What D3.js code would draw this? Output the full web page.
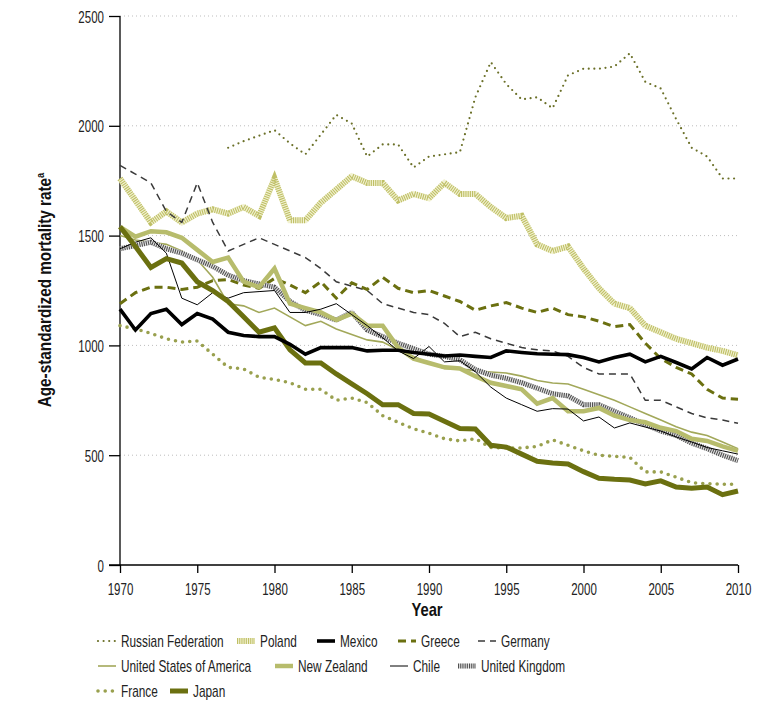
<!DOCTYPE html>
<html><head><meta charset="utf-8">
<script src="https://cdn.jsdelivr.net/npm/d3@7"></script>
<style>
body{margin:0;background:#fff;}
text{font-family:"Liberation Sans",Arial,sans-serif;}
</style></head>
<body><svg id="c" width="771" height="708"></svg>
<script>
const years = d3.range(1970, 2011);
const russia = [null,null,null,null,null,null,null,1900,1930,1955,1980,1920,1870,1960,2050,2010,1860,1915,1915,1810,1860,1870,1880,2130,2290,2190,2120,2130,2080,2230,2260,2260,2270,2330,2200,2170,2030,1900,1860,1760,1760];
const poland = [1760,1660,1560,1610,1560,1600,1620,1600,1630,1590,1760,1570,1570,1650,1710,1770,1740,1740,1660,1690,1670,1740,1690,1690,1630,1580,1590,1460,1430,1450,1350,1260,1190,1170,1090,1060,1030,1010,990,975,955];
const mexico = [1165,1070,1145,1165,1095,1145,1120,1060,1045,1040,1040,1005,960,990,990,990,975,978,978,968,960,952,956,950,945,975,968,962,960,958,945,925,945,960,925,950,922,893,945,910,938];
const greece = [1190,1240,1265,1265,1255,1265,1295,1300,1275,1260,1305,1275,1240,1290,1215,1285,1255,1310,1260,1240,1250,1225,1200,1160,1180,1195,1170,1150,1170,1140,1130,1110,1085,1095,1010,940,900,870,800,760,755];
const germany = [1820,1780,1740,1610,1560,1740,1560,1430,1460,1490,1460,1430,1400,1350,1290,1270,1250,1190,1170,1150,1140,1100,1040,1060,1030,1010,990,980,975,950,900,870,870,870,750,750,720,690,670,660,645];
const usa = [1500,1480,1470,1460,1430,1390,1310,1190,1180,1150,1170,1130,1090,1110,1075,1050,1025,1015,980,950,920,895,893,885,879,874,860,840,829,824,800,775,750,720,690,660,630,605,590,560,530];
const newZealand = [1540,1495,1520,1515,1490,1435,1380,1400,1290,1265,1350,1190,1170,1150,1115,1145,1090,1090,990,940,920,900,895,860,830,815,800,735,760,700,700,715,680,660,650,625,610,575,565,540,520];
const chile = [1440,1470,1490,1420,1215,1185,1240,1215,1240,1245,1250,1150,1150,1165,1190,1140,1090,1035,975,940,995,925,930,880,810,760,730,700,712,710,656,674,624,647,628,610,583,560,535,520,505];
const uk = [1440,1455,1470,1440,1420,1390,1360,1320,1295,1280,1265,1200,1160,1140,1115,1150,1070,1040,1010,985,960,950,935,890,865,850,830,805,780,770,730,730,700,670,640,610,590,555,530,500,475];
const france = [1090,1075,1055,1030,1015,1020,960,900,893,855,845,830,800,800,750,760,740,680,650,620,600,575,565,575,535,533,533,540,570,545,520,500,495,490,424,424,400,375,370,368,368];
const japan = [1540,1450,1355,1395,1375,1290,1250,1200,1130,1060,1080,980,920,920,870,825,780,730,730,690,688,655,622,619,545,537,505,472,465,460,425,395,390,387,369,383,355,350,355,320,337];
const yTicks = [0,500,1000,1500,2000,2500];
const xTicks = [1970,1975,1980,1985,1990,1995,2000,2005,2010];

const seriesNames = ["Russian Federation","Poland","Mexico","Greece","Germany","United States of America","New Zealand","Chile","United Kingdom","France","Japan"];
const seriesData = [russia,poland,mexico,greece,germany,usa,newZealand,chile,uk,france,japan];

const styles = {
 "Russian Federation":[{stroke:"#6b7028",w:2.2,dash:"0,5.6",cap:"round"}],
 "Poland":[{stroke:"#f2f2d2",w:6},{stroke:"#bfbf66",w:6,dash:"1.1,1.1"}],
 "Mexico":[{stroke:"#000",w:3.6}],
 "Greece":[{stroke:"#6b7010",w:3,dash:"8,5"}],
 "Germany":[{stroke:"#3a3a3a",w:1.5,dash:"7,5"}],
 "United States of America":[{stroke:"#a2a85a",w:1.6}],
 "New Zealand":[{stroke:"#b7bc6c",w:4.5}],
 "Chile":[{stroke:"#000",w:1}],
 "United Kingdom":[{stroke:"#e4e4e4",w:5},{stroke:"#505050",w:5,dash:"1.1,1.1"}],
 "France":[{stroke:"#99a04e",w:3.6,dash:"0,7.2",cap:"round"}],
 "Japan":[{stroke:"#6b7010",w:5}]
};
const drawOrder = ["Russian Federation","Poland","Germany","Greece","France","United States of America","United Kingdom","New Zealand","Chile","Japan","Mexico"];

const svg = d3.select("#c");
const x = d3.scaleLinear().domain([1970,2010]).range([120,738]);
const y = d3.scaleLinear().domain([0,2500]).range([565,16]);

// gridlines
svg.append("g").selectAll("line").data(yTicks.filter(v=>v>0)).join("line")
  .attr("x1",120).attr("x2",740).attr("y1",d=>y(d)).attr("y2",d=>y(d))
  .attr("stroke","#bdbdbd").attr("stroke-width",1).attr("stroke-dasharray","1,3");

// axes
const yAxis = svg.append("g").attr("transform","translate(120,0)")
  .call(d3.axisLeft(y).tickValues(yTicks).tickSize(11).tickFormat(d3.format("d")));
const xAxis = svg.append("g").attr("transform","translate(0,565)")
  .call(d3.axisBottom(x).tickValues(xTicks).tickSize(8).tickFormat(d3.format("d")));
[yAxis,xAxis].forEach(g=>{
  g.select(".domain").attr("stroke","#000").attr("stroke-width",1.3);
  g.selectAll(".tick line").attr("stroke","#000").attr("stroke-width",1.3);
});
yAxis.select(".domain").attr("d","M0,565V16");
xAxis.select(".domain").attr("d","M109,0H738");
yAxis.selectAll(".tick text").attr("x",null).attr("dy",null)
  .attr("transform","translate(-16,6) scale(0.72,1)").attr("text-anchor","end")
  .attr("font-size",16).attr("fill","#222").style("font-family",'"Liberation Sans",Arial,sans-serif');
xAxis.selectAll(".tick text").attr("y",null).attr("dy",null)
  .attr("transform","translate(0,30) scale(0.72,1)").attr("text-anchor","middle")
  .attr("font-size",16).attr("fill","#222").style("font-family",'"Liberation Sans",Arial,sans-serif');

// titles
svg.append("text").attr("transform","translate(427,616) scale(0.82,1)").attr("text-anchor","middle")
  .attr("font-size",18).attr("font-weight","bold").attr("fill","#111").text("Year");
const yt = svg.append("text").attr("transform","translate(51,290) rotate(-90) scale(0.85,1)")
  .attr("text-anchor","middle").attr("font-size",18).attr("font-weight","bold").attr("fill","#111");
yt.append("tspan").text("Age-standardized mortality rate");
yt.append("tspan").attr("font-size",11).attr("dy",-7).text("a");

// lines
const line = d3.line().defined(d=>d.v!=null).x(d=>x(d.yr)).y(d=>y(d.v));
const plot = svg.append("g");
drawOrder.forEach(name=>{
  const vals = seriesData[seriesNames.indexOf(name)];
  const pts = years.map((yr,i)=>({yr,v:vals[i]}));
  styles[name].forEach(s=>{
    plot.append("path").datum(pts).attr("d",line).attr("fill","none")
      .attr("stroke",s.stroke).attr("stroke-width",s.w)
      .attr("stroke-dasharray",s.dash||null).attr("stroke-linecap",s.cap||"butt")
      .attr("stroke-linejoin","miter");
  });
});

// legend: [swatch x, baseline y]
const legendPos = [
 [98,647],[237,647],[317,647],[398,647],[478,647],
 [98,672],[275,672],[390,672],[458,672],
 [98,697],[170,697]
];
const lg = svg.append("g");
seriesNames.forEach((name,i)=>{
  const [lx,ly] = legendPos[i];
  const sw = 18;
  styles[name].forEach(s=>{
    lg.append("line").attr("x1",lx).attr("x2",lx+sw).attr("y1",ly-6).attr("y2",ly-6)
      .attr("stroke",s.stroke).attr("stroke-width",s.w)
      .attr("stroke-dasharray",s.dash||null).attr("stroke-linecap",s.cap||"butt");
  });
  lg.append("text").attr("transform",`translate(${lx+sw+5},${ly}) scale(0.74,1)`)
    .attr("font-size",16).attr("fill","#222").text(name);
});
</script></body></html>
